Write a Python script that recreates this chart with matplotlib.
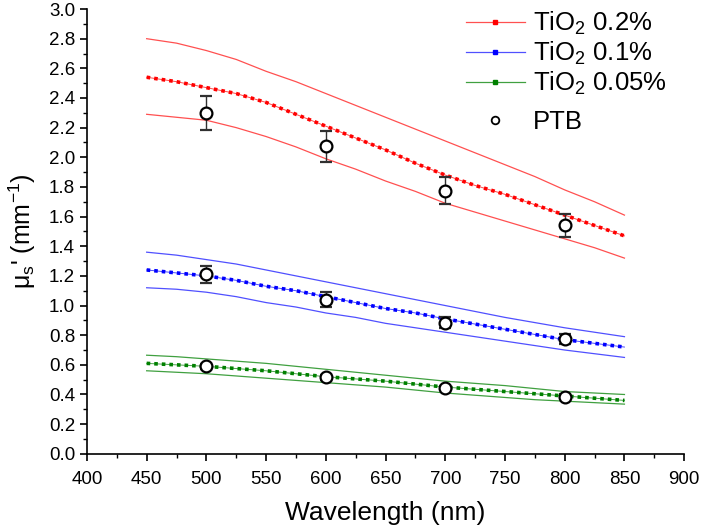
import matplotlib
matplotlib.use('Agg')
import matplotlib.pyplot as plt
from matplotlib.lines import Line2D
from matplotlib.ticker import MultipleLocator

plt.rcParams['font.family'] = ['Liberation Sans', 'DejaVu Sans']
plt.rcParams['mathtext.default'] = 'regular'

# wavelength grid for the simulated curves (nm)
wl = [450, 475, 500, 525, 550, 575, 600, 625, 650, 675, 700, 725, 750, 775, 800, 825, 850]

# TiO2 0.2 %  (centre, upper, lower)
red_mid = [2.54, 2.51, 2.47, 2.43, 2.37, 2.29, 2.21, 2.13, 2.05, 1.96, 1.88, 1.81, 1.75, 1.68, 1.61, 1.54, 1.47]
red_up = [2.80, 2.77, 2.72, 2.66, 2.58, 2.51, 2.43, 2.35, 2.27, 2.19, 2.11, 2.03, 1.95, 1.87, 1.78, 1.70, 1.61]
red_lo = [2.29, 2.27, 2.25, 2.20, 2.14, 2.07, 1.99, 1.92, 1.84, 1.77, 1.69, 1.63, 1.57, 1.51, 1.45, 1.39, 1.32]

# TiO2 0.1 %
blue_mid = [1.24, 1.22, 1.20, 1.17, 1.13, 1.10, 1.06, 1.02, 0.98, 0.95, 0.91, 0.875, 0.84, 0.805, 0.77, 0.745, 0.72]
blue_up = [1.36, 1.34, 1.31, 1.28, 1.24, 1.20, 1.16, 1.12, 1.08, 1.04, 1.00, 0.96, 0.92, 0.885, 0.85, 0.82, 0.79]
blue_lo = [1.12, 1.11, 1.09, 1.06, 1.02, 0.99, 0.95, 0.92, 0.88, 0.85, 0.82, 0.79, 0.76, 0.73, 0.70, 0.675, 0.65]

# TiO2 0.05 %
green_mid = [0.61, 0.60, 0.59, 0.575, 0.56, 0.54, 0.52, 0.505, 0.49, 0.47, 0.45, 0.435, 0.42, 0.405, 0.39, 0.375, 0.36]
green_up = [0.665, 0.655, 0.64, 0.625, 0.61, 0.59, 0.57, 0.55, 0.53, 0.51, 0.49, 0.475, 0.46, 0.44, 0.42, 0.41, 0.40]
green_lo = [0.56, 0.55, 0.54, 0.525, 0.51, 0.495, 0.48, 0.465, 0.45, 0.43, 0.41, 0.395, 0.38, 0.365, 0.355, 0.345, 0.335]

# PTB reference measurements
ptb_wl = [500, 600, 700, 800]
ptb_red = [2.30, 2.075, 1.775, 1.54]
ptb_red_err = [0.115, 0.105, 0.09, 0.075]
ptb_blue = [1.21, 1.04, 0.885, 0.775]
ptb_blue_err = [0.06, 0.05, 0.035, 0.035]
ptb_green = [0.59, 0.515, 0.445, 0.385]
ptb_green_err = [0.015, 0.015, 0.015, 0.015]

fig = plt.figure(figsize=(7.01, 5.32), dpi=100)
ax = fig.add_axes([0.124, 0.147, 0.852, 0.836])

series = [
    (red_mid, red_up, red_lo, '#ff0000', '#ff5050', 'TiO$_2$ 0.2%'),
    (blue_mid, blue_up, blue_lo, '#0000ff', '#5050ff', 'TiO$_2$ 0.1%'),
    (green_mid, green_up, green_lo, '#008000', '#40a040', 'TiO$_2$ 0.05%'),
]

handles = []
for mid, up, lo, c, cl, lab in series:
    ax.plot(wl, up, color=cl, lw=0.9)
    ax.plot(wl, lo, color=cl, lw=0.9)
    ax.plot(wl, mid, color=c, lw=0.7, alpha=0.7)
    # square dots along the centre curve
    ax.plot(wl, mid, color=c, lw=2.6, linestyle=(0, (1, 1.1)), dash_capstyle='butt')
    handles.append(Line2D([0], [0], color=cl, lw=0.9, marker='s', markersize=3,
                          markerfacecolor=c, markeredgecolor=c, label=lab))

for vals, errs in [(ptb_red, ptb_red_err), (ptb_blue, ptb_blue_err), (ptb_green, ptb_green_err)]:
    ax.errorbar(ptb_wl, vals, yerr=errs, fmt='o', color='#202020', ecolor='#303030',
                markerfacecolor='white', markeredgecolor='black', markersize=8.5,
                markeredgewidth=1.6, elinewidth=1.0, capsize=4.5, capthick=1.0, zorder=5)

ptb_handle = Line2D([0], [0], linestyle='none', marker='o', markersize=5.5,
                    markerfacecolor='white', markeredgecolor='black',
                    markeredgewidth=1.3, label='PTB')

ax.set_xlim(400, 900)
ax.set_ylim(0, 3.0)
ax.xaxis.set_major_locator(MultipleLocator(50))
ax.xaxis.set_minor_locator(MultipleLocator(25))
ax.yaxis.set_major_locator(MultipleLocator(0.2))
ax.yaxis.set_minor_locator(MultipleLocator(0.1))
ax.yaxis.set_major_formatter(plt.FuncFormatter(lambda v, p: f'{v:.1f}'))

ax.spines['top'].set_visible(False)
ax.spines['right'].set_visible(False)
for s in ['left', 'bottom']:
    ax.spines[s].set_linewidth(1.2)
ax.tick_params(which='major', direction='out', length=5, width=1.2, labelsize=13.5)
ax.tick_params(which='minor', direction='out', length=3, width=1.0)
ax.tick_params(axis='x', which='major', pad=7.5)

ax.set_xlabel('Wavelength (nm)', fontsize=19, labelpad=9)
ax.set_ylabel("μ$_s$' (mm$^{-1}$)", fontsize=18, labelpad=8)

leg1 = ax.legend(handles=handles, loc='upper left', bbox_to_anchor=(0.617, 1.022), frameon=False,
                 fontsize=18.5, handlelength=2.3, handletextpad=0.3, labelspacing=0.12,
                 borderaxespad=0)
ax.add_artist(leg1)
ax.legend(handles=[ptb_handle], loc='upper left', bbox_to_anchor=(0.617, 0.796), frameon=False,
          fontsize=18.5, handlelength=2.3, handletextpad=0.3, borderaxespad=0)

fig.savefig('out.png', dpi=100)
